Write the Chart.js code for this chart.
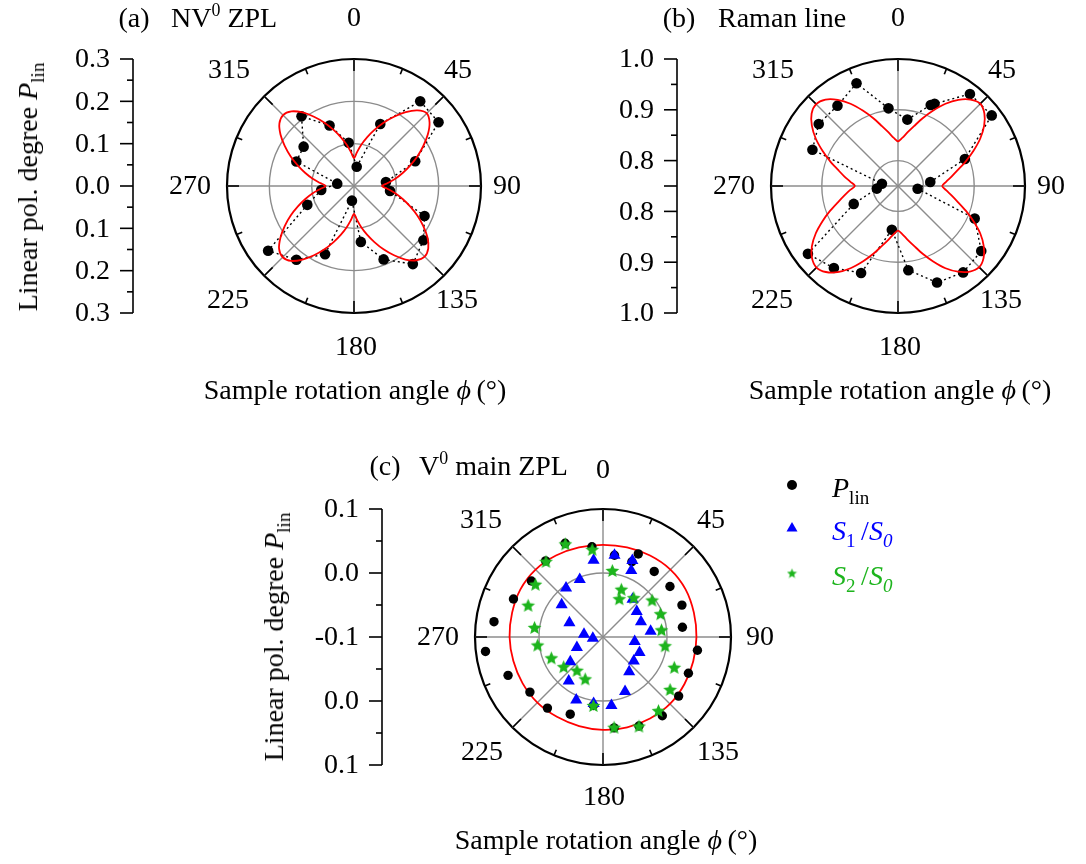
<!DOCTYPE html>
<html>
<head>
<meta charset="utf-8">
<script src="https://cdn.jsdelivr.net/npm/chart.js@4.4.1/dist/chart.umd.min.js"></script>
<style>
  body { margin: 0; background: #fff; }
  #fig { position: relative; width: 1086px; height: 864px; font-family: "Liberation Serif", "Times New Roman", serif; color: #000; overflow: hidden; }
  #fig canvas { position: absolute; }
  .t { position: absolute; font-size: 28px; line-height: 1; white-space: nowrap; }
  .c { transform: translate(-50%, -50%); }
  .l { transform: translate(0, -50%); }
  .rot { transform: translate(-50%, -50%) rotate(-90deg); }
  sup { font-size: 0.64em; vertical-align: 0.6em; line-height: 0; }
  sub { font-size: 0.68em; vertical-align: -0.35em; line-height: 0; font-style: normal; }
  sub i { font-style: italic; }
</style>
</head>
<body>
<div id="fig">
  <canvas id="chartA" width="543" height="430" style="left:0;top:0"></canvas>
  <canvas id="chartB" width="543" height="430" style="left:543px;top:0"></canvas>
  <canvas id="chartC" width="846" height="434" style="left:240px;top:430px"></canvas>

  <div class="t c" style="left:134px;top:18px">(a)</div>
  <div class="t l" style="left:171px;top:18px">NV<sup>0</sup> ZPL</div>
  <div class="t rot" style="left:28px;top:187px">Linear pol. degree <i>P</i><sub>lin</sub></div>
  <div class="t c" style="left:355px;top:390px">Sample rotation angle <i>ϕ</i>&#8201;(°)</div>

  <div class="t c" style="left:679px;top:18px">(b)</div>
  <div class="t l" style="left:718px;top:18px">Raman line</div>
  <div class="t c" style="left:900px;top:390px">Sample rotation angle <i>ϕ</i>&#8201;(°)</div>

  <div class="t c" style="left:385px;top:466px">(c)</div>
  <div class="t l" style="left:419px;top:466px">V<sup>0</sup> main ZPL</div>
  <div class="t rot" style="left:274px;top:637px">Linear pol. degree <i>P</i><sub>lin</sub></div>
  <div class="t c" style="left:606px;top:840px">Sample rotation angle <i>ϕ</i>&#8201;(°)</div>

  <div class="t l" style="left:832px;top:488px"><i>P</i><sub>lin</sub></div>
  <div class="t l" style="left:832px;top:531px;color:#0000ff"><i>S</i><sub>1</sub>&#8201;/<i>S</i><sub><i>0</i></sub></div>
  <div class="t l" style="left:832px;top:576px;color:#1db41d"><i>S</i><sub>2</sub>&#8201;/<i>S</i><sub><i>0</i></sub></div>
</div>

<script>
// angle labels around each polar plot
const angleLabels = [0, 45, 90, 135, 180, 225, 270, 315];
const degrees = Array.from({ length: 360 }, (_, i) => i);
const fitAngles5 = Array.from({ length: 72 }, (_, i) => i * 5);
const fitAngles15 = Array.from({ length: 24 }, (_, i) => i * 15);

// (a) NV0 ZPL
const aAngles = [8, 23, 38, 53, 68, 83, 98, 113, 128, 143, 158, 173, 188, 203, 218, 233, 248, 263, 278, 293, 308, 323, 338, 353];
const aPlin = [0.046, 0.159, 0.254, 0.250, 0.156, 0.076, 0.086, 0.181, 0.208, 0.231, 0.187, 0.133,
               0.035, 0.175, 0.221, 0.254, 0.119, 0.078, 0.040, 0.148, 0.151, 0.206, 0.154, 0.103];
const aFit = [
  0.066, 0.080, 0.099, 0.119, 0.141, 0.165, 0.189, 0.213, 0.233, 0.243,
  0.233, 0.213, 0.189, 0.165, 0.141, 0.119, 0.099, 0.080,
  0.066, 0.080, 0.099, 0.119, 0.141, 0.165, 0.189, 0.212, 0.229, 0.236,
  0.229, 0.212, 0.189, 0.165, 0.141, 0.119, 0.099, 0.080,
  0.066, 0.080, 0.099, 0.119, 0.141, 0.165, 0.189, 0.212, 0.231, 0.238,
  0.231, 0.212, 0.189, 0.165, 0.141, 0.119, 0.099, 0.080,
  0.067, 0.080, 0.099, 0.119, 0.141, 0.165, 0.189, 0.212, 0.230, 0.237,
  0.230, 0.212, 0.189, 0.165, 0.141, 0.119, 0.099, 0.080
];
const aTicks = [0, 0.1, 0.2, 0.3];
const aTickLabels = ['0.0', '0.1', '0.2', '0.3'];
const aMinor = [0.05, 0.15, 0.25];

// (b) Raman line
const bAngles = [8, 22, 24, 38, 53, 68, 83, 98, 113, 128, 143, 158, 173, 188, 203, 218, 233, 248, 263, 278, 293, 308, 323, 338, 353];
const bRaman = [0.882, 0.922, 0.927, 0.980, 0.981, 0.892, 0.814, 0.789, 0.914, 0.958, 0.963, 0.955, 0.917,
                0.837, 0.936, 0.955, 0.972, 0.844, 0.792, 0.782, 0.933, 0.948, 0.948, 0.968, 0.904];
const bFit = [
  0.838, 0.845, 0.857, 0.872, 0.892, 0.914, 0.937, 0.957, 0.972, 0.979,
  0.972, 0.957, 0.937, 0.914, 0.892, 0.872, 0.857, 0.845,
  0.837, 0.845, 0.857, 0.872, 0.892, 0.914, 0.937, 0.956, 0.970, 0.976,
  0.970, 0.956, 0.937, 0.914, 0.892, 0.872, 0.857, 0.845,
  0.838, 0.845, 0.857, 0.872, 0.892, 0.914, 0.937, 0.957, 0.971, 0.977,
  0.971, 0.957, 0.937, 0.914, 0.892, 0.872, 0.857, 0.845,
  0.835, 0.844, 0.857, 0.872, 0.892, 0.914, 0.937, 0.957, 0.972, 0.978,
  0.972, 0.957, 0.937, 0.914, 0.892, 0.872, 0.857, 0.845
];
const bTicks = [0.75, 0.8, 0.9, 1.0];
const bTickLabels = ['', '0.8', '0.9', '1.0'];
const bMinor = [0.85, 0.95];

// (c) V0 main ZPL
const cAngles = [8, 21, 23, 38, 53, 68, 83, 98, 113, 128, 143, 158, 173, 188, 203, 218, 233, 248, 263, 278, 293, 308, 323, 338, 353];
const cPlin = [0.029, 0.026, 0.041, 0.030, 0.031, 0.033, 0.025, 0.049, 0.045, 0.050, 0.054, 0.050, 0.043,
               0.008, 0.031, 0.041, 0.043, 0.060, 0.085, 0.072, 0.052, 0.042, 0.049, 0.058, 0.042];
const cS1 = [0.029, 0.028, 0.013, -0.025, -0.034, -0.036, -0.025, -0.050, -0.038, -0.039, -0.032, -0.008, 0.008,
             0.005, 0.007, -0.013, -0.036, -0.056, -0.084, -0.070, -0.043, -0.018, -0.004, -0.003, 0.021];
const cS2 = [0.005, -0.020, -0.035, -0.022, -0.004, -0.003, -0.008, -0.002, 0.021, 0.033, 0.044, 0.050, 0.042,
             0.008, -0.029, -0.034, -0.023, -0.013, 0.003, 0.008, 0.027, 0.034, 0.048, 0.057, 0.038];
const cFit = [0.044, 0.045, 0.047, 0.049, 0.049, 0.047, 0.046, 0.046, 0.047, 0.048, 0.047, 0.046,
              0.045, 0.044, 0.044, 0.045, 0.045, 0.045, 0.046, 0.047, 0.049, 0.049, 0.047, 0.045];
const cTicks = [-0.1, 0.0, 0.1];
const cTickLabels = ['-0.1', '0.0', '0.1'];
const cMinor = [-0.05, 0.05];

const GRAY = '#8c8c8c';
const RED = '#ff0000';
const BLUE = '#0000ff';
const GREEN = '#1db41d';
const FONT = '28px "Liberation Serif", "Times New Roman", serif';

// label centres relative to the circle centre
const offsetsTop = [[0, -168], [104, -116], [153, 0], [103, 114], [2, 161], [-126, 114], [-164, 0], [-125, -116]];
const offsetsBottom = [[0, -167], [108, -117], [157, 0], [115, 115], [1, 160], [-121, 115], [-165, 0], [-122, -117]];

function onCircle(angles, values) {
  const out = degrees.map(() => null);
  angles.forEach((a, i) => { out[a % 360] = values[i]; });
  return out;
}

function makeStar(size, color, inner) {
  const c = document.createElement('canvas');
  c.width = size; c.height = size;
  const g = c.getContext('2d');
  const R = size / 2 - 0.3, r = R * inner;
  g.beginPath();
  for (let k = 0; k < 10; k++) {
    const rad = k % 2 ? r : R;
    const t = -Math.PI / 2 + k * Math.PI / 5;
    g.lineTo(size / 2 + rad * Math.cos(t), size / 2 + rad * Math.sin(t) + 0.7);
  }
  g.closePath();
  g.fillStyle = color;
  g.fill();
  return c;
}
const starBig = makeStar(15, GREEN, 0.46);
const starSmall = makeStar(11, GREEN, 0.44);

function fitSet(angles, values, order) {
  return {
    data: onCircle(angles, values),
    borderColor: RED, borderWidth: 1.8, pointRadius: 0,
    fill: false, spanGaps: true, tension: 0.3, order: order
  };
}

function framePlugin(cfg) {
  return {
    id: 'frame',
    beforeDatasetsDraw(chart) {
      const s = chart.scales.r, ctx = chart.ctx, R = s.drawingArea;
      ctx.save();
      ctx.strokeStyle = '#000';
      ctx.lineWidth = 1.6;
      for (let a = 0; a < 360; a += 22.5) {
        const len = a % 45 === 0 ? 12 : 6;
        const t = (a - 90) * Math.PI / 180;
        ctx.beginPath();
        ctx.moveTo(s.xCenter + Math.cos(t) * R, s.yCenter + Math.sin(t) * R);
        ctx.lineTo(s.xCenter + Math.cos(t) * (R - len), s.yCenter + Math.sin(t) * (R - len));
        ctx.stroke();
      }
      ctx.restore();
    },
    afterDraw(chart) {
      const s = chart.scales.r, ctx = chart.ctx, R = s.drawingArea;
      const x = s.xCenter - 221;
      ctx.save();
      ctx.strokeStyle = '#000';
      ctx.fillStyle = '#000';
      ctx.lineWidth = 1.6;
      ctx.beginPath();
      ctx.moveTo(x, s.yCenter - R);
      ctx.lineTo(x, s.yCenter + R);
      ctx.stroke();
      ctx.font = FONT;
      ctx.textAlign = 'right';
      ctx.textBaseline = 'middle';
      const tick = (y, len) => {
        ctx.beginPath(); ctx.moveTo(x, y); ctx.lineTo(x - len, y); ctx.stroke();
      };
      cfg.ticks.forEach((v, i) => {
        const d = s.getDistanceFromCenterForValue(v);
        const ys = d < 0.5 ? [s.yCenter] : [s.yCenter - d, s.yCenter + d];
        ys.forEach(y => {
          tick(y, 13);
          if (cfg.tickLabels[i]) ctx.fillText(cfg.tickLabels[i], x - 23, y + 1);
        });
      });
      cfg.minor.forEach(v => {
        const d = s.getDistanceFromCenterForValue(v);
        tick(s.yCenter - d, 6);
        tick(s.yCenter + d, 6);
      });
      ctx.textAlign = 'center';
      angleLabels.forEach((a, i) => {
        const o = cfg.labelOffsets[i];
        ctx.fillText(String(a), s.xCenter + o[0], s.yCenter + o[1] + 1);
      });
      if (cfg.legend) {
        // legend markers of panel (c)
        ctx.beginPath();
        ctx.arc(552, 55, 5, 0, Math.PI * 2);
        ctx.fill();
        ctx.fillStyle = BLUE;
        ctx.beginPath();
        ctx.moveTo(552, 92); ctx.lineTo(557.5, 101.5); ctx.lineTo(546.5, 101.5);
        ctx.closePath();
        ctx.fill();
        ctx.drawImage(starSmall, 552 - 5.5, 143 - 5.5);
      }
      ctx.restore();
    }
  };
}

function polarChart(cfg) {
  const lo = cfg.ticks[0], hi = cfg.ticks[cfg.ticks.length - 1];
  const isOuter = c => c.tick && Math.abs(c.tick.value - hi) < 1e-9;
  return new Chart(document.getElementById(cfg.canvas), {
    type: 'radar',
    data: { labels: degrees, datasets: cfg.datasets },
    options: {
      responsive: false,
      animation: false,
      events: [],
      layout: { padding: cfg.padding, autoPadding: false },
      plugins: { legend: { display: false }, tooltip: { enabled: false } },
      scales: {
        r: {
          min: lo,
          max: hi,
          startAngle: 0,
          afterBuildTicks: scale => { scale.ticks = cfg.ticks.map(v => ({ value: v })); },
          ticks: { display: false },
          pointLabels: { display: false },
          grid: {
            circular: true,
            color: c => isOuter(c) ? '#000' : GRAY,
            lineWidth: c => isOuter(c) ? 2.2 : 1.4
          },
          angleLines: {
            color: GRAY,
            lineWidth: c => c.index % 45 === 0 ? 1.4 : 0
          }
        }
      }
    },
    plugins: [framePlugin(cfg)]
  });
}

polarChart({
  canvas: 'chartA',
  padding: { left: 227, top: 59, right: 62, bottom: 117 },
  ticks: aTicks, tickLabels: aTickLabels, minor: aMinor,
  labelOffsets: offsetsTop,
  datasets: [
    fitSet(fitAngles5, aFit, 0),
    {
      data: onCircle(aAngles, aPlin),
      borderColor: '#000', borderWidth: 1.4, borderDash: [2, 3],
      pointRadius: 5.3, pointBackgroundColor: '#000', pointBorderWidth: 0,
      fill: false, spanGaps: true, order: 1
    }
  ]
});

polarChart({
  canvas: 'chartB',
  padding: { left: 228, top: 59, right: 61, bottom: 117 },
  ticks: bTicks, tickLabels: bTickLabels, minor: bMinor,
  labelOffsets: offsetsTop,
  datasets: [
    fitSet(fitAngles5, bFit, 0),
    {
      data: onCircle(bAngles, bRaman),
      borderColor: '#000', borderWidth: 1.4, borderDash: [2, 3],
      pointRadius: 5.3, pointBackgroundColor: '#000', pointBorderWidth: 0,
      fill: false, spanGaps: true, order: 1
    }
  ]
});

polarChart({
  canvas: 'chartC',
  padding: { left: 235, top: 79, right: 355, bottom: 99 },
  ticks: cTicks, tickLabels: cTickLabels, minor: cMinor,
  labelOffsets: offsetsBottom,
  legend: true,
  datasets: [
    fitSet(fitAngles15, cFit, 3),
    {
      data: onCircle(cAngles, cPlin), showLine: false,
      pointRadius: 4.7, pointBackgroundColor: '#000', pointBorderWidth: 0, order: 2
    },
    {
      data: onCircle(cAngles, cS1), showLine: false, pointStyle: 'triangle',
      pointRadius: 7, pointBackgroundColor: BLUE, pointBorderWidth: 0, order: 1
    },
    {
      data: onCircle(cAngles, cS2), showLine: false, pointStyle: starBig,
      pointRadius: 7, order: 0
    }
  ]
});
</script>
</body>
</html>
